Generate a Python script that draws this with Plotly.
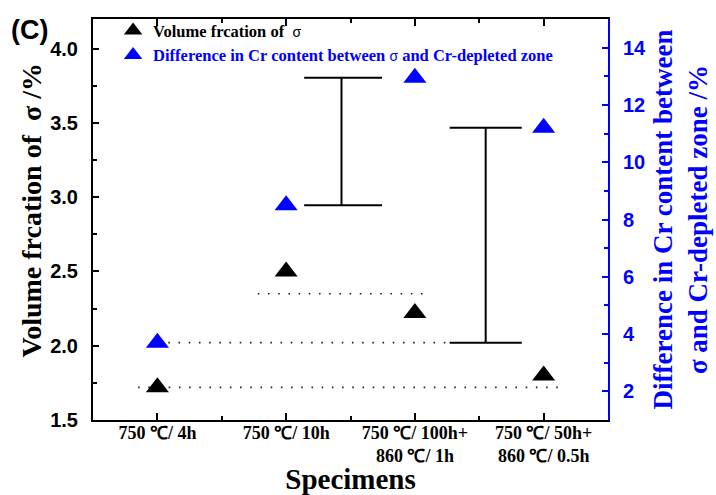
import plotly.graph_objects as go

# Heat-treatment conditions along the x axis
categories = [
    "750 ℃/ 4h",
    "750 ℃/ 10h",
    "750 ℃/ 100h+<br>860 ℃/ 1h",
    "750 ℃/ 50h+<br>860 ℃/ 0.5h",
]
cat_pos = [0, 1, 2, 3]

# Volume fraction of sigma phase (%), left axis
sigma_fraction = [1.72, 2.50, 2.22, 1.80]
# Difference in Cr content between sigma and Cr-depleted zone (%), right axis
cr_difference = [3.70, 8.50, 12.95, 11.20]

# Dotted guide lines: x extent of each
guide_fraction_x = [-0.15, 3.17]      # level of sigma_fraction[0]
guide_cr_x = [0.085, 2.27]            # level of cr_difference[0]
guide_mid_x = [0.78, 2.12]
guide_mid_level = 2.35                # left-axis level

# Brackets comparing Cr differences: left end, stem, right end
bracket_a_x = [1.14, 1.43, 1.745]     # between 10h and 100h+1h
bracket_b_x = [2.27, 2.55, 2.83]      # between 4h and 50h+0.5h

BLUE = "#0000FF"
SERIF = "Liberation Serif"
SANS = "Liberation Sans"

fig = go.Figure()

dot_style = dict(color="#222222", width=1.6, dash="1.6px,8.6px")

fig.add_trace(go.Scatter(
    x=guide_fraction_x, y=[sigma_fraction[0]] * 2, mode="lines",
    line=dot_style, showlegend=False, hoverinfo="skip", yaxis="y"))
fig.add_trace(go.Scatter(
    x=guide_mid_x, y=[guide_mid_level] * 2, mode="lines",
    line=dot_style, showlegend=False, hoverinfo="skip", yaxis="y"))
fig.add_trace(go.Scatter(
    x=guide_cr_x, y=[cr_difference[0]] * 2, mode="lines",
    line=dot_style, showlegend=False, hoverinfo="skip", yaxis="y2"))


def bracket(xs, low, high):
    l, s, r = xs
    return go.Scatter(
        x=[l, r, None, s, s, None, l, r],
        y=[high, high, None, high, low, None, low, low],
        mode="lines", line=dict(color="black", width=2),
        showlegend=False, hoverinfo="skip", yaxis="y2")


fig.add_trace(bracket(bracket_a_x, cr_difference[1], cr_difference[2]))
fig.add_trace(bracket(bracket_b_x, cr_difference[0], cr_difference[3]))

fig.add_trace(go.Scatter(
    x=cat_pos, y=sigma_fraction, mode="markers",
    marker=dict(symbol="triangle-up", size=20, color="black"),
    name="<b>Volume frcation of  </b><span style='font-family:Liberation Sans;font-size:14px'>σ</span>",
    legendgroup="a", yaxis="y"))
fig.add_trace(go.Scatter(
    x=cat_pos, y=cr_difference, mode="markers",
    marker=dict(symbol="triangle-up", size=20, color=BLUE),
    name=("<span style='color:#0000FF'><b>Difference in Cr content between </b>"
          "<span style='font-family:Liberation Sans;font-size:14px'>σ</span>"
          "<b> and Cr-depleted zone</b></span>"),
    legendgroup="b", yaxis="y2"))

fig.update_layout(
    width=716, height=495,
    margin=dict(l=93, r=108, t=19, b=75),
    paper_bgcolor="white", plot_bgcolor="white",
    showlegend=True,
    legend=dict(
        x=0.039, y=1.014, xanchor="left", yanchor="top",
        bgcolor="rgba(0,0,0,0)", traceorder="grouped", tracegroupgap=0,
        font=dict(family=SERIF, size=16.5, color="black"),
    ),
    xaxis=dict(
        automargin=False,
        range=[-0.5, 3.5], tickmode="array", tickvals=cat_pos, ticktext=categories,
        ticks="inside", ticklen=7, tickwidth=2, tickcolor="black",
        minor=dict(tickvals=[0.5, 1.5, 2.5], ticks="inside", ticklen=4,
                   tickwidth=1.5, tickcolor="black"),
        showline=True, linecolor="black", linewidth=2, mirror="ticks",
        showgrid=False, zeroline=False, ticklabelstandoff=-5,
        tickfont=dict(family=SERIF, size=18, color="black", weight="bold"),
        title=dict(text="Specimens", standoff=8,
                   font=dict(family=SERIF, size=29, color="black", weight="bold")),
    ),
    yaxis=dict(
        automargin=False,
        range=[1.5, 4.2], tickmode="linear", tick0=1.5, dtick=0.5, tickformat=".1f",
        ticks="inside", ticklen=6, tickwidth=2, tickcolor="black",
        minor=dict(dtick=0.25, ticks="inside", ticklen=4, tickwidth=1.5,
                   tickcolor="black"),
        showline=True, linecolor="black", linewidth=2,
        showgrid=False, zeroline=False, ticklabelstandoff=9,
        tickfont=dict(family=SANS, size=20, color="black", weight="bold"),
    ),
    yaxis2=dict(
        automargin=False,
        overlaying="y", side="right", anchor="x",
        range=[1, 15], tickmode="linear", tick0=2, dtick=2,
        ticks="inside", ticklen=6, tickwidth=2, tickcolor=BLUE,
        minor=dict(dtick=1, ticks="inside", ticklen=4, tickwidth=1.5,
                   tickcolor=BLUE),
        showline=True, linecolor=BLUE, linewidth=2,
        showgrid=False, zeroline=False, ticklabelstandoff=9,
        tickfont=dict(family=SANS, size=20, color=BLUE, weight="bold"),
        title=dict(text="Difference in Cr content between<br>σ and Cr-depleted zone /%",
                   standoff=8,
                   font=dict(family=SERIF, size=27, color=BLUE, weight="bold")),
    ),
    annotations=[
        dict(text="(C)", xref="paper", yref="paper", x=-0.163, y=0.9726,
             xanchor="left", yanchor="middle", showarrow=False,
             font=dict(family=SANS, size=27, color="black", weight="bold")),
        # left axis title, set slightly above the plot's vertical centre
        dict(text="Volume frcation of  σ /%", xref="paper", yref="paper",
             x=-0.12, y=0.523, xanchor="center", yanchor="middle",
             textangle=-90, showarrow=False,
             font=dict(family=SERIF, size=28, color="black", weight="bold")),
    ],
)

fig.write_html("out.html")
